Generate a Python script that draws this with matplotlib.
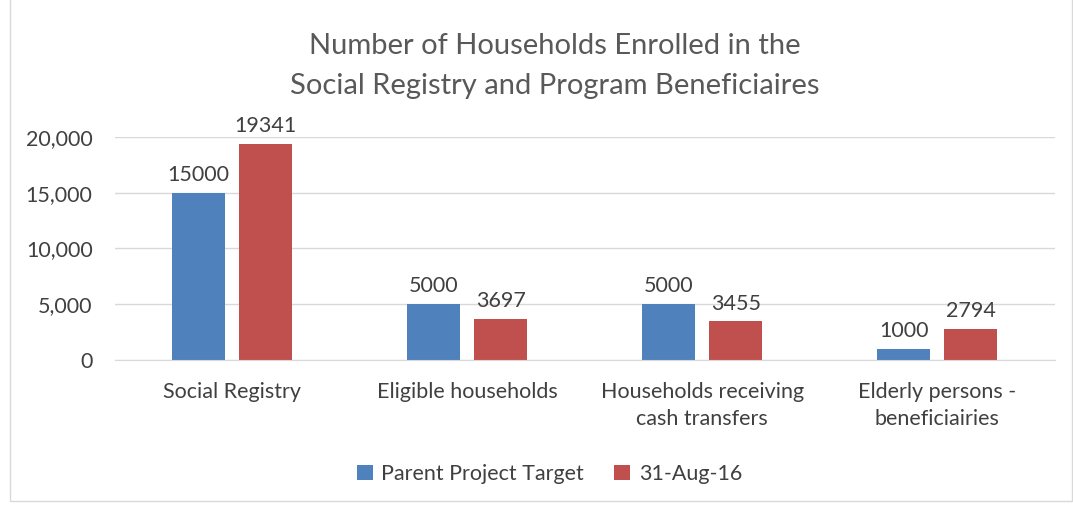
import matplotlib.pyplot as plt
import numpy as np
from matplotlib.patches import Rectangle

categories = ["Social Registry", "Eligible households", "Households receiving\ncash transfers",
              "Elderly persons -\nbeneficiairies"]
target = [15000, 5000, 5000, 1000]
actual = [19341, 3697, 3455, 2794]
series_names = ["Parent Project Target", "31-Aug-16"]
yticks = [0, 5000, 10000, 15000, 20000]

plt.rcParams['font.family'] = ['Lato', 'DejaVu Sans']
blue = '#4F81BD'
red = '#C0504D'
txt = '#404040'
fs = 15.5

fig = plt.figure(figsize=(10.73, 5.07), dpi=100)
ax = fig.add_axes([0.107, 0.29, 0.876, 0.44])

x = np.arange(len(categories))
w = 0.225
off = 0.143
b1 = ax.bar(x - off, target, w, color=blue, label=series_names[0], zorder=3)
b2 = ax.bar(x + off, actual, w, color=red, label=series_names[1], zorder=3)

for bars, vals in [(b1, target), (b2, actual)]:
    for r, v in zip(bars, vals):
        ax.text(r.get_x() + r.get_width() / 2, v + 700, str(v), ha='center', va='bottom',
                fontsize=fs, color=txt)

ax.set_xlim(-0.5, 3.5)
ax.set_ylim(0, 20000)
ax.set_yticks(yticks)
ax.set_yticklabels([f"{t:,}" for t in yticks], fontsize=fs, color=txt)
ax.set_xticks(x)
ax.set_xticklabels(categories, fontsize=fs, color=txt, linespacing=1.45)
ax.tick_params(length=0)
ax.tick_params(axis='x', pad=16)
ax.tick_params(axis='y', pad=16)
ax.grid(axis='y', color='#D9D9D9', linewidth=1, zorder=0)
for s in ['top', 'right', 'left']:
    ax.spines[s].set_visible(False)
ax.spines['bottom'].set_color('#D9D9D9')
ax.spines['bottom'].set_zorder(4)

fig.text(0.517, 0.87, "Number of Households Enrolled in the\nSocial Registry and Program Beneficiaires",
         ha='center', va='center', fontsize=21, color='#595959', linespacing=1.7)

fig.legend(handles=[b1, b2], loc='center', bbox_to_anchor=(0.512, 0.065), ncol=2, frameon=False,
           fontsize=fs, handlelength=0.75, handleheight=0.75, columnspacing=1.4, handletextpad=0.4,
           labelcolor=txt)

fig.patches.append(Rectangle((0.009, 0.012), 0.99, 0.99, transform=fig.transFigure,
                             fill=False, edgecolor='#D9D9D9', linewidth=1))

fig.savefig('out.png', dpi=100)
